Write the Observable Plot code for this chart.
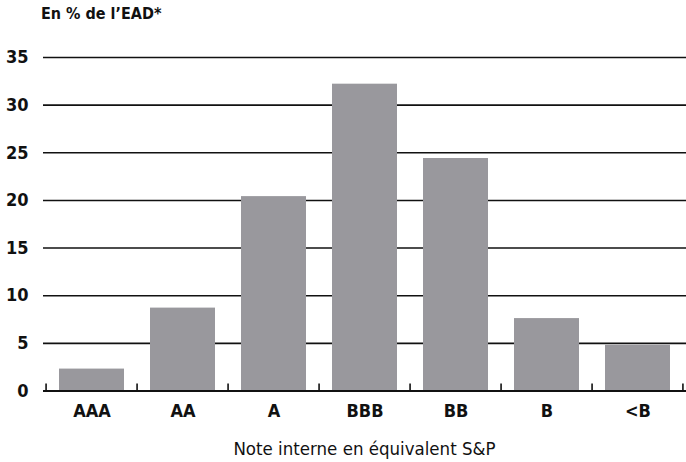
<!DOCTYPE html>
<html>
<head>
<meta charset="utf-8">
<script src="https://cdn.jsdelivr.net/npm/d3@7"></script>
<script src="https://cdn.jsdelivr.net/npm/@observablehq/plot@0.6"></script>
<style>
  html, body { margin: 0; padding: 0; background: #fff; }
  body { width: 686px; height: 462px; overflow: hidden; font-family: "Liberation Sans Narrow", "DejaVu Sans Condensed", "Liberation Sans", sans-serif; }
  #title { height: 30px; box-sizing: border-box; padding: 5px 0 0 41px; font-size: 16px; font-weight: bold; line-height: 18px; color: #111; }
  #caption { height: 32px; text-align: center; padding-left: 43px; font-size: 18.5px; line-height: 32px; color: #111; margin-top: 3px; }
  svg { display: block; }
</style>
</head>
<body>
<div id="title">En % de l’EAD*</div>
<div id="chart"></div>
<div id="caption">Note interne en équivalent S&amp;P</div>
<script>
const categories = ["AAA", "AA", "A", "BBB", "BB", "B", "<B"];
const values = [2.3, 8.7, 20.4, 32.2, 24.4, 7.6, 4.8];
const yTicks = [0, 5, 10, 15, 20, 25, 30, 35];

const data = categories.map((c, i) => ({cat: c, value: values[i]}));

const width = 686, height = 400, marginLeft = 43, marginRight = 0;
const step = (width - marginLeft - marginRight) / categories.length;

const plot = Plot.plot({
  width, height,
  marginTop: 27, marginBottom: 39.5, marginLeft, marginRight,
  style: {fontFamily: '"Liberation Sans Narrow", "DejaVu Sans Condensed", sans-serif', background: "#fff", color: "#111"},
  x: {domain: categories, paddingInner: 0.29, paddingOuter: 0.145, label: null},
  y: {domain: [0, 35], label: null},
  marks: [
    Plot.ruleY(yTicks.filter(d => d > 0), {stroke: "#111", strokeWidth: 1.6}),
    Plot.barY(data, {x: "cat", y: "value", fill: "#99989d"}),
    Plot.ruleY([0], {stroke: "#111", strokeWidth: 2.2}),
    Plot.ruleX(categories, {x: d => d, dx: -step / 2, y1: 0, y2: 0, insetTop: -7, stroke: "#111", strokeWidth: 1.6}),
    Plot.ruleX(categories.slice(-1), {x: d => d, dx: step / 2 - 1, y1: 0, y2: 0, insetTop: -7, stroke: "#111", strokeWidth: 1.6}),
    Plot.axisY({ticks: yTicks, tickSize: 0, tickPadding: 15, fontSize: 18, fontWeight: "bold", label: null}),
    Plot.axisX({tickSize: 0, tickPadding: 13, fontSize: 18, fontWeight: "bold", label: null})
  ]
});
document.getElementById("chart").appendChild(plot);
</script>
</body>
</html>
